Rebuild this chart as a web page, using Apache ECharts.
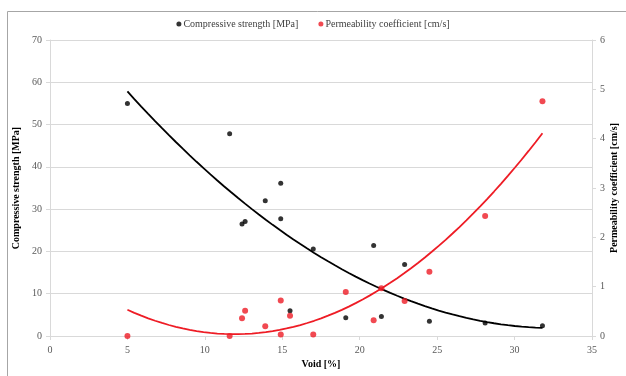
<!DOCTYPE html>
<html>
<head>
<meta charset="utf-8">
<script src="https://cdn.jsdelivr.net/npm/echarts@6/dist/echarts.min.js"></script>
<style>html,body{margin:0;padding:0;background:#fff;}#c{width:626px;height:376px;}</style>
</head>
<body>
<div id="c"></div>
<script>
// Void [%] for each specimen
const voids = [5.0, 11.6, 12.4, 12.6, 13.9, 14.9, 14.9, 15.5, 17.0, 19.1, 20.9, 21.4, 22.9, 24.5, 28.1, 31.8];
// Compressive strength [MPa]
const strength = [55.0, 47.8, 26.5, 27.1, 32.0, 36.1, 27.7, 6.0, 20.6, 4.3, 21.4, 4.6, 16.9, 3.5, 3.1, 2.4];
// Permeability coefficient [cm/s]
const permeability = [0.0, 0.0, 0.36, 0.51, 0.2, 0.72, 0.03, 0.41, 0.03, 0.89, 0.32, 0.97, 0.71, 1.30, 2.43, 4.76];

const xTicks = [0, 5, 10, 15, 20, 25, 30, 35];
const leftTicks = [0, 10, 20, 30, 40, 50, 60, 70];
const rightTicks = [0, 1, 2, 3, 4, 5, 6];

const seriesNames = ['Compressive strength [MPa]', 'Permeability coefficient [cm/s]'];

// least-squares 2nd-order polynomial trendline (as in the spreadsheet chart)
function polyFit2(xs, ys) {
  let n = xs.length, s = [0,0,0,0,0], t = [0,0,0];
  for (let i = 0; i < n; i++) {
    let x = xs[i], y = ys[i], p = 1;
    for (let k = 0; k < 5; k++) { s[k] += p; if (k < 3) t[k] += p * y; p *= x; }
  }
  const A = [[s[0], s[1], s[2], t[0]], [s[1], s[2], s[3], t[1]], [s[2], s[3], s[4], t[2]]];
  for (let i = 0; i < 3; i++) {
    for (let j = i + 1; j < 3; j++) {
      const f = A[j][i] / A[i][i];
      for (let k = i; k < 4; k++) A[j][k] -= f * A[i][k];
    }
  }
  const c = [0, 0, 0];
  for (let i = 2; i >= 0; i--) {
    let v = A[i][3];
    for (let k = i + 1; k < 3; k++) v -= A[i][k] * c[k];
    c[i] = v / A[i][i];
  }
  return c;
}
function trend(xs, ys) {
  const c = polyFit2(xs, ys);
  const lo = Math.min(...xs), hi = Math.max(...xs), out = [];
  for (let i = 0; i <= 60; i++) {
    const x = lo + (hi - lo) * i / 60;
    out.push([x, c[0] + c[1] * x + c[2] * x * x]);
  }
  return out;
}

const font = 'Liberation Serif, Times New Roman, serif';
const chart = echarts.init(document.getElementById('c'), null, {renderer: 'canvas'});
chart.setOption({
  animation: false,
  backgroundColor: '#fff',
  textStyle: {fontFamily: font},
  graphic: [{
    type: 'polyline', silent: true, z: -1,
    shape: {points: [[7.5, 380], [7.5, 11.5], [640, 11.5]]},
    style: {fill: 'none', stroke: '#a6a6a6', lineWidth: 1}
  }],
  legend: {
    top: 14, left: 'center',
    data: seriesNames,
    icon: 'circle', itemWidth: 5, itemHeight: 5, itemGap: 20,
    textStyle: {fontFamily: font, fontSize: 10, color: '#404040', padding: [0, 0, 0, -3]}
  },
  grid: {left: 50, right: 34, top: 40, bottom: 40, containLabel: false, outerBoundsMode: 'none'},
  xAxis: {
    type: 'value', min: xTicks[0], max: xTicks[xTicks.length - 1], interval: 5,
    name: 'Void [%]', nameLocation: 'middle', nameGap: 23,
    nameTextStyle: {fontFamily: font, fontWeight: 'bold', fontSize: 10, color: '#000'},
    axisLine: {show: true, onZero: false, lineStyle: {color: '#d9d9d9'}},
    axisTick: {show: true, length: 4, lineStyle: {color: '#d9d9d9'}},
    axisLabel: {fontFamily: font, fontSize: 10, color: '#595959', margin: 9},
    splitLine: {show: false}
  },
  yAxis: [{
    type: 'value', min: leftTicks[0], max: leftTicks[leftTicks.length - 1], interval: 10,
    name: 'Compressive strength [MPa]', nameLocation: 'middle', nameGap: 27, nameRotate: 90,
    nameTextStyle: {fontFamily: font, fontWeight: 'bold', fontSize: 10, color: '#000'},
    axisLine: {show: true, lineStyle: {color: '#d9d9d9'}},
    axisTick: {show: true, length: 4, lineStyle: {color: '#d9d9d9'}},
    axisLabel: {fontFamily: font, fontSize: 10, color: '#595959', margin: 8},
    splitLine: {show: true, lineStyle: {color: '#d9d9d9', width: 1}}
  }, {
    type: 'value', min: rightTicks[0], max: rightTicks[rightTicks.length - 1], interval: 1,
    position: 'right',
    name: 'Permeability coefficient [cm/s]', nameLocation: 'middle', nameGap: 17, nameRotate: 90,
    nameMoveOverlap: false,
    nameTextStyle: {fontFamily: font, fontWeight: 'bold', fontSize: 10, color: '#000'},
    axisLine: {show: true, lineStyle: {color: '#d9d9d9'}},
    axisTick: {show: true, length: 4, lineStyle: {color: '#d9d9d9'}},
    axisLabel: {fontFamily: font, fontSize: 10, color: '#595959', margin: 8},
    splitLine: {show: false}
  }],
  series: [{
    name: seriesNames[0], type: 'scatter', yAxisIndex: 0, symbolSize: 5, z: 5,
    itemStyle: {color: '#000'},
    data: voids.map((v, i) => [v, strength[i]])
  }, {
    name: seriesNames[1], type: 'scatter', yAxisIndex: 1, symbolSize: 6, z: 5,
    itemStyle: {color: '#ee1c25'},
    data: voids.map((v, i) => [v, permeability[i]])
  }, {
    name: 'trend1', type: 'line', yAxisIndex: 0, showSymbol: false, smooth: false, z: 3,
    lineStyle: {color: '#000', width: 1.8},
    data: trend(voids, strength)
  }, {
    name: 'trend2', type: 'line', yAxisIndex: 1, showSymbol: false, smooth: false, z: 3,
    lineStyle: {color: '#ee1c25', width: 1.8},
    data: trend(voids, permeability)
  }]
});
</script>
</body>
</html>
